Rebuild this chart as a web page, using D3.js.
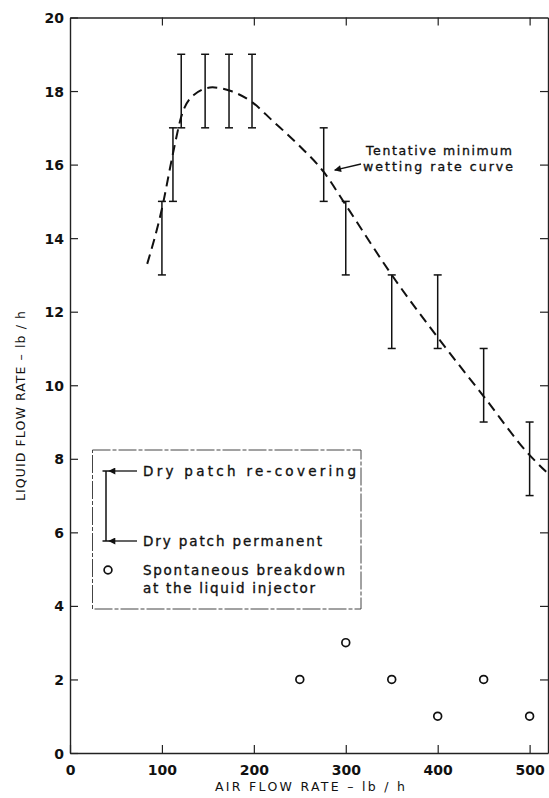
<!DOCTYPE html>
<html>
<head>
<meta charset="utf-8">
<script src="https://cdn.jsdelivr.net/npm/d3@7"></script>
<style>
  body { margin: 0; background: #fff; }
  svg { display: block; }
  text { font-family: "DejaVu Sans", sans-serif; fill: #111; }
  .lbl { stroke: #111; stroke-width: 0.35px; }
</style>
</head>
<body>
<script>
// error bars: air flow vs liquid flow range (dry patch permanent .. re-covering)
var airFlow   = [100, 112, 121, 147, 173, 198, 276, 300, 350, 400, 450, 500];
var wetLow    = [13, 15, 17, 17, 17, 17, 15, 13, 11, 11, 9, 7];
var wetHigh   = [15, 17, 19, 19, 19, 19, 17, 15, 13, 13, 11, 9];

// spontaneous breakdown at the liquid injector
var breakAir    = [250, 300, 350, 400, 450, 500];
var breakLiquid = [2, 3, 2, 1, 2, 1];

// tentative minimum wetting rate curve (dashed)
var curveAir    = [84, 100, 112, 121, 135, 155, 175, 198, 220, 250, 276, 300, 350, 400, 450, 500, 520];
var curveLiquid = [13.3, 14.8, 16.3, 17.3, 17.9, 18.1, 18.0, 17.7, 17.2, 16.5, 15.8, 14.9, 13.0, 11.3, 9.7, 8.1, 7.6];

var xTicks = [0, 100, 200, 300, 400, 500];
var yTicks = [0, 2, 4, 6, 8, 10, 12, 14, 16, 18, 20];

var W = 549, H = 798;
var svg = d3.select('body').append('svg')
            .attr('width', W)
            .attr('height', H);

var x = d3.scaleLinear().domain([0, 520]).range([70, 548]);
var y = d3.scaleLinear().domain([0, 20]).range([753, 17.5]);

// arrow head
svg.append('defs').append('marker')
    .attr('id', 'arrow')
    .attr('viewBox', '0 0 10 10')
    .attr('refX', 9).attr('refY', 5)
    .attr('markerWidth', 9).attr('markerHeight', 7)
    .attr('markerUnits', 'userSpaceOnUse')
    .attr('orient', 'auto')
  .append('path')
    .attr('d', 'M0,0 L10,5 L0,10 z')
    .style('fill', '#111');

// axes, ticks inside on all four sides
var axB = svg.append('g').attr('transform', 'translate(0,' + y(0) + ')')
    .call(d3.axisBottom(x).tickValues(xTicks).tickSize(-8).tickSizeOuter(0).tickPadding(12));
var axL = svg.append('g').attr('transform', 'translate(' + x(0) + ',0)')
    .call(d3.axisLeft(y).tickValues(yTicks).tickSize(-8).tickSizeOuter(0).tickPadding(6));
var axT = svg.append('g').attr('transform', 'translate(0,' + y(20) + ')')
    .call(d3.axisTop(x).tickValues(xTicks.slice(1)).tickSize(-8).tickSizeOuter(0).tickFormat(''));
var axR = svg.append('g').attr('transform', 'translate(' + x(520) + ',0)')
    .call(d3.axisRight(y).tickValues(yTicks.slice(1, -1)).tickSize(-8).tickSizeOuter(0).tickFormat(''));

[axB, axL, axT, axR].forEach(function(a) {
    a.select('.domain').style('stroke', '#222').style('stroke-width', 1.4);
    a.selectAll('.tick line').style('stroke', '#222').style('stroke-width', 1.2);
    a.selectAll('.tick text')
        .style('font-size', '14px')
        .style('font-weight', 'bold')
        .style('fill', '#111');
});
axL.selectAll('.tick text').attr('dy', '0.36em');

// axis titles
svg.append('text')
    .attr('x', 310).attr('y', 791)
    .attr('text-anchor', 'middle')
    .attr('textLength', 190)
    .attr('lengthAdjust', 'spacing')
    .style('font-size', '12.5px')
    .text('AIR FLOW RATE \u2013 lb / h');

svg.append('text')
    .attr('transform', 'translate(25,406) rotate(-90)')
    .attr('text-anchor', 'middle')
    .attr('textLength', 190)
    .attr('lengthAdjust', 'spacing')
    .style('font-size', '12.5px')
    .text('LIQUID FLOW RATE \u2013 lb / h');

// dashed curve
var line = d3.line()
    .x(function(d) { return x(d[0]); })
    .y(function(d) { return y(d[1]); })
    .curve(d3.curveMonotoneX);
var curvePts = curveAir.map(function(a, i) { return [a, curveLiquid[i]]; });
svg.append('path')
    .datum(curvePts)
    .attr('d', line)
    .style('fill', 'none')
    .style('stroke', '#111')
    .style('stroke-width', 2)
    .style('stroke-dasharray', '10,6');

// error bars
var capW = 4;
var bars = svg.append('g').style('stroke', '#111');
for (var i=0; i<airFlow.length; i++)
{
    var cx = x(airFlow[i]);
    bars.append('line')
        .attr('x1', cx).attr('x2', cx)
        .attr('y1', y(wetLow[i])).attr('y2', y(wetHigh[i]))
        .style('stroke-width', 1.5);
    [wetLow[i], wetHigh[i]].forEach(function(v) {
        bars.append('line')
            .attr('x1', cx - capW).attr('x2', cx + capW)
            .attr('y1', y(v)).attr('y2', y(v))
            .style('stroke-width', 1.5);
    });
}

// breakdown circles
svg.append('g').selectAll('circle')
    .data(breakAir)
  .enter().append('circle')
    .attr('cx', function(d) { return x(d); })
    .attr('cy', function(d, i) { return y(breakLiquid[i]); })
    .attr('r', 3.9)
    .style('fill', '#fff')
    .style('stroke', '#111')
    .style('stroke-width', 1.7);

// annotation for curve
svg.append('text').attr('class', 'lbl').attr('x', 366).attr('y', 155)
    .attr('textLength', 146).attr('lengthAdjust', 'spacing')
    .style('font-size', '12.5px').text('Tentative minimum');
svg.append('text').attr('class', 'lbl').attr('x', 363).attr('y', 171)
    .attr('textLength', 150).attr('lengthAdjust', 'spacing')
    .style('font-size', '12.5px').text('wetting rate curve');
svg.append('line')
    .attr('x1', 361).attr('y1', 164)
    .attr('x2', x(288)).attr('y2', y(15.85))
    .style('stroke', '#111').style('stroke-width', 1.3)
    .attr('marker-end', 'url(#arrow)');

// legend
var lg = svg.append('g');
lg.append('rect')
    .attr('x', 92.5).attr('y', 450)
    .attr('width', 268.5).attr('height', 159)
    .style('fill', 'none')
    .style('stroke', '#444')
    .style('stroke-width', 1)
    .style('stroke-dasharray', '18,2,4,2');

var lx = 106, lTop = 471, lBot = 541;
lg.append('line').attr('x1', lx).attr('x2', lx).attr('y1', lTop).attr('y2', lBot)
    .style('stroke', '#111').style('stroke-width', 1.5);
[lTop, lBot].forEach(function(v) {
    lg.append('line').attr('x1', lx - 3.5).attr('x2', lx + 3.5).attr('y1', v).attr('y2', v)
        .style('stroke', '#111').style('stroke-width', 1.5);
    lg.append('line').attr('x1', 137).attr('x2', 109).attr('y1', v).attr('y2', v)
        .style('stroke', '#111').style('stroke-width', 1.3)
        .attr('marker-end', 'url(#arrow)');
});

lg.append('text').attr('class', 'lbl').attr('x', 143).attr('y', lTop + 5)
    .attr('textLength', 213).attr('lengthAdjust', 'spacing')
    .style('font-size', '13.5px').text('Dry patch re-covering');
lg.append('text').attr('class', 'lbl').attr('x', 143).attr('y', lBot + 5)
    .attr('textLength', 179).attr('lengthAdjust', 'spacing')
    .style('font-size', '13.5px').text('Dry patch permanent');

lg.append('circle').attr('cx', 108).attr('cy', 570).attr('r', 3.9)
    .style('fill', '#fff').style('stroke', '#111').style('stroke-width', 1.7);
lg.append('text').attr('class', 'lbl').attr('x', 143).attr('y', 575)
    .attr('textLength', 202).attr('lengthAdjust', 'spacing')
    .style('font-size', '13.5px').text('Spontaneous breakdown');
lg.append('text').attr('class', 'lbl').attr('x', 143).attr('y', 593)
    .attr('textLength', 172).attr('lengthAdjust', 'spacing')
    .style('font-size', '13.5px').text('at the liquid injector');
</script>
</body>
</html>
